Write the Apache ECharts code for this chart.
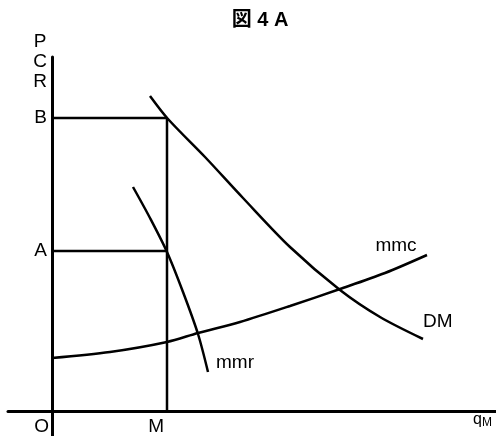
<!DOCTYPE html>
<html>
<head>
<meta charset="utf-8">
<script src="https://cdn.jsdelivr.net/npm/echarts@6/dist/echarts.min.js"></script>
<style>
  html, body { margin: 0; padding: 0; background: #fff; }
  #main { width: 496px; height: 436px; }
</style>
</head>
<body>
<div id="main"></div>
<script>
// 图4A 数据 (单位随意, 1 = 10px 左右, 从图上估出来的)
var M = 11.5;      // 产量 M
var A = 16.0;      // 价格 A
var B = 29.3;      // 价格 B

var dmX  = [9.8, 11.6, 15.3, 19.1, 23.8, 28.8, 32.8, 37.1];
var dmY  = [31.5, 29.2, 25.4, 21.3, 16.4, 12.1, 9.4, 7.2];

var mmrX = [8.1, 9.8, 11.5, 13.1, 14.6, 15.6];
var mmrY = [22.4, 19.3, 15.9, 11.9, 7.7, 3.9];

var mmcX = [0, 5.8, 11.5, 14.6, 18.8, 23.8, 28.8, 33.3, 37.5];
var mmcY = [5.3, 5.9, 6.9, 7.8, 8.9, 10.5, 12.2, 13.8, 15.6];

var xTickValues = [0, M];
var xTickLabels = ['O', 'M'];
var yTickValues = [A, B];
var yTickLabels = ['A', 'B'];

var FONT = '"Liberation Sans", Arial, "Noto Sans CJK JP", sans-serif';

function zip(xs, ys) {
  var arr = [];
  for (let i = 0; i < xs.length; i++) {
    arr.push([xs[i], ys[i]]);
  }
  return arr;
}

function pickLabel(values, labels) {
  return function (v) {
    for (let i = 0; i < values.length; i++) {
      if (Math.abs(values[i] - v) < 1e-6) return labels[i];
    }
    return '';
  };
}

let myChart = echarts.init(document.getElementById('main'));

let lineStyle = { color: '#000', width: 2.5 };

function guide(name, data) {
  return {
    name: name,
    type: 'line',
    data: data,
    showSymbol: false,
    lineStyle: lineStyle,
    silent: true
  };
}

function curve(name, data, offset, align) {
  return {
    name: name,
    type: 'line',
    data: data,
    smooth: 0.3,
    showSymbol: false,
    lineStyle: lineStyle,
    endLabel: {
      show: true,
      formatter: name,
      distance: 0,
      align: align,
      offset: offset,
      fontSize: 19,
      color: '#000'
    }
  };
}

let option = {
  animation: false,
  backgroundColor: '#fff',
  textStyle: { fontFamily: FONT },
  title: {
    text: '図 4 A',
    left: 255,
    top: 5,
    textAlign: 'center',
    textStyle: { fontSize: 20, fontWeight: 'bold', color: '#000', fontFamily: FONT }
  },
  // 网格铺满, 两根轴用 offset 挪到原点上 (轴会越过原点一点)
  grid: {
    left: 8,
    right: 0,
    top: 57,
    bottom: 0,
    outerBoundsMode: 'none'
  },
  xAxis: {
    type: 'value',
    min: -4.4,
    max: 44.4,
    offset: -25,
    splitLine: { show: false },
    axisTick: { show: false },
    axisLine: { onZero: false, lineStyle: { color: '#000', width: 3 } },
    axisLabel: {
      customValues: xTickValues,
      formatter: pickLabel(xTickValues, xTickLabels),
      color: '#000',
      fontSize: 19,
      align: 'right',
      margin: 6,
      padding: [0, 3, 0, 0]
    },
    name: '{q|q}{s|M}',
    nameLocation: 'end',
    nameGap: -23,
    nameTextStyle: {
      align: 'left',
      verticalAlign: 'top',
      rich: {
        q: { fontSize: 16, color: '#000', fontFamily: FONT, lineHeight: 18 },
        s: { fontSize: 12, color: '#000', fontFamily: FONT, lineHeight: 18, padding: [6, 0, 0, 0] }
      }
    }
  },
  yAxis: {
    type: 'value',
    min: -2.5,
    max: 35.4,
    offset: -44,
    splitLine: { show: false },
    axisTick: { show: false },
    axisLine: { onZero: false, lineStyle: { color: '#000', width: 3 } },
    axisLabel: {
      customValues: yTickValues,
      formatter: pickLabel(yTickValues, yTickLabels),
      color: '#000',
      fontSize: 19,
      align: 'right',
      margin: 5,
      padding: [3, 0, 0, 0]
    },
    name: 'P\nC\nR',
    nameLocation: 'end',
    nameGap: -35,
    nameTextStyle: {
      color: '#000',
      fontSize: 19,
      lineHeight: 20,
      align: 'center',
      verticalAlign: 'bottom',
      padding: [0, 24, 0, 0]
    }
  },
  series: [
    guide('B', [[0, B], [M, B]]),
    guide('A', [[0, A], [M, A]]),
    guide('M', [[M, 0], [M, B]]),
    curve('DM', zip(dmX, dmY), [0, -17.5], 'left'),
    curve('mmr', zip(mmrX, mmrY), [8, -9.5], 'left'),
    curve('mmc', zip(mmcX, mmcY), [-31, -9.5], 'center')
  ]
};

myChart.setOption(option);
</script>
</body>
</html>
